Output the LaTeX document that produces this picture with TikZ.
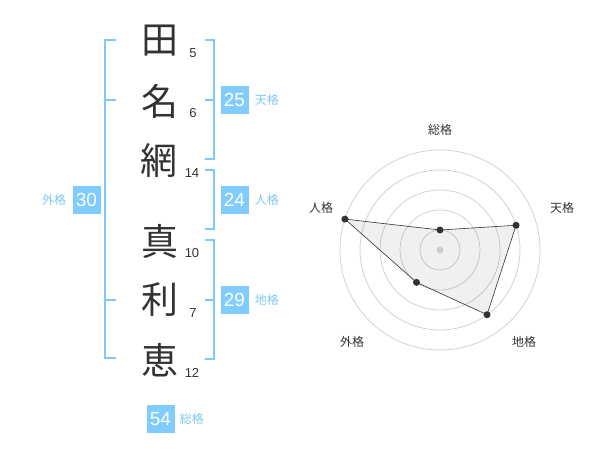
\documentclass[tikz,border=0pt]{standalone}
\usepackage{fontspec}
\usetikzlibrary{calc}
\setmainfont{Liberation Sans}
\newfontfamily\jp{Noto Sans CJK JP}
\definecolor{ink}{HTML}{333333}
\definecolor{boxblue}{HTML}{80CCFF}
\definecolor{brblue}{HTML}{80C8F8}
\definecolor{lblblue}{HTML}{80C8F0}
\definecolor{ringgray}{HTML}{CCCCCC}
\begin{document}
\begin{tikzpicture}[x=1pt,y=-1pt,
  kanji/.style={font=\jp\fontsize{37}{37}\selectfont, text=ink, inner sep=0},
  strokes/.style={font=\fontsize{13}{13}\selectfont, text=ink, inner sep=0},
  valbox/.style={fill=boxblue, text=white, minimum width=28, minimum height=28, inner sep=0, font=\fontsize{19}{19}\selectfont},
  lbl/.style={text=lblblue, font=\jp\fontsize{12}{12}\selectfont, inner sep=0},
  brk/.style={draw=brblue, line width=2},
  ring/.style={draw=ringgray, line width=0.7},
  axlbl/.style={text=ink, font=\jp\fontsize{12}{12}\selectfont, inner sep=0},
  dot/.style={circle, fill=ink, inner sep=0, minimum size=7},
]
\useasboundingbox (0,0) rectangle (600,470);
% name characters
\node[kanji] (k1) at (160,41) {田};
\node[kanji] (k2) at (160,101) {名};
\node[kanji] (k3) at (159,160) {網};
\node[kanji] (k4) at (160,241) {真};
\node[kanji] (k5) at (160,300) {利};
\node[kanji] (k6) at (160,360) {恵};
% stroke counts
\node[strokes] (n1) at (193,53) {5};
\node[strokes] (n2) at (193,113) {6};
\node[strokes] (n3) at (192,173) {14};
\node[strokes] (n4) at (192,253) {10};
\node[strokes] (n5) at (193,313) {7};
\node[strokes] (n6) at (192,373) {12};
% brackets
\draw[brk] (116,40) -- (105,40) -- (105,358) -- (116,358);
\draw[brk] (105,100) -- (116,100);
\draw[brk] (105,300) -- (116,300);
\draw[brk] (205,40) -- (214,40) -- (214,159) -- (205,159);
\draw[brk] (214,100) -- (205,100);
\draw[brk] (205,170) -- (214,170) -- (214,229) -- (205,229);
\draw[brk] (205,240) -- (214,240) -- (214,359) -- (205,359);
\draw[brk] (214,300) -- (205,300);
% value boxes
\node[valbox] (ten) at (234.5,100) {25};
\node[lbl, anchor=west] (tenl) at ([xshift=6pt]ten.east) {天格};
\node[valbox] (jin) at (234.5,200) {24};
\node[lbl, anchor=west] (jinl) at ([xshift=6pt]jin.east) {人格};
\node[valbox] (chi) at (234.5,300) {29};
\node[lbl, anchor=west] (chil) at ([xshift=6pt]chi.east) {地格};
\node[valbox] (gai) at (86.5,200) {30};
\node[lbl, anchor=east] (gail) at ([xshift=-6pt]gai.west) {外格};
\node[valbox] (sou) at (160.5,419) {54};
\node[lbl, anchor=west] (soul) at ([xshift=5pt]sou.east) {総格};
% radar chart
\coordinate (c) at (440,250);
\foreach \r in {20,40,60,80,100} \draw[ring] (c) circle[radius=\r];
\coordinate (pS) at ($(c)+(-90:20)$);
\coordinate (pT) at ($(c)+(-18:80)$);
\coordinate (pC) at ($(c)+(54:80)$);
\coordinate (pG) at ($(c)+(126:40)$);
\coordinate (pJ) at ($(c)+(198:100)$);
\fill[black, fill opacity=0.06] (pS) -- (pT) -- (pC) -- (pG) -- (pJ) -- cycle;
\draw[ink, line width=0.6] (pS) -- (pT) -- (pC) -- (pG) -- (pJ) -- cycle;
\node[circle, fill=ringgray, inner sep=0, minimum size=7] (cdot) at (c) {};
\foreach \p in {pS,pT,pC,pG,pJ} \node[dot] at (\p) {};
\node[axlbl] (aS) at (440,130) {総格};
\node[axlbl] (aT) at (562,208) {天格};
\node[axlbl] (aC) at (524,342) {地格};
\node[axlbl] (aG) at (352,342) {外格};
\node[axlbl] (aJ) at (321,208) {人格};
\end{tikzpicture}
\end{document}
